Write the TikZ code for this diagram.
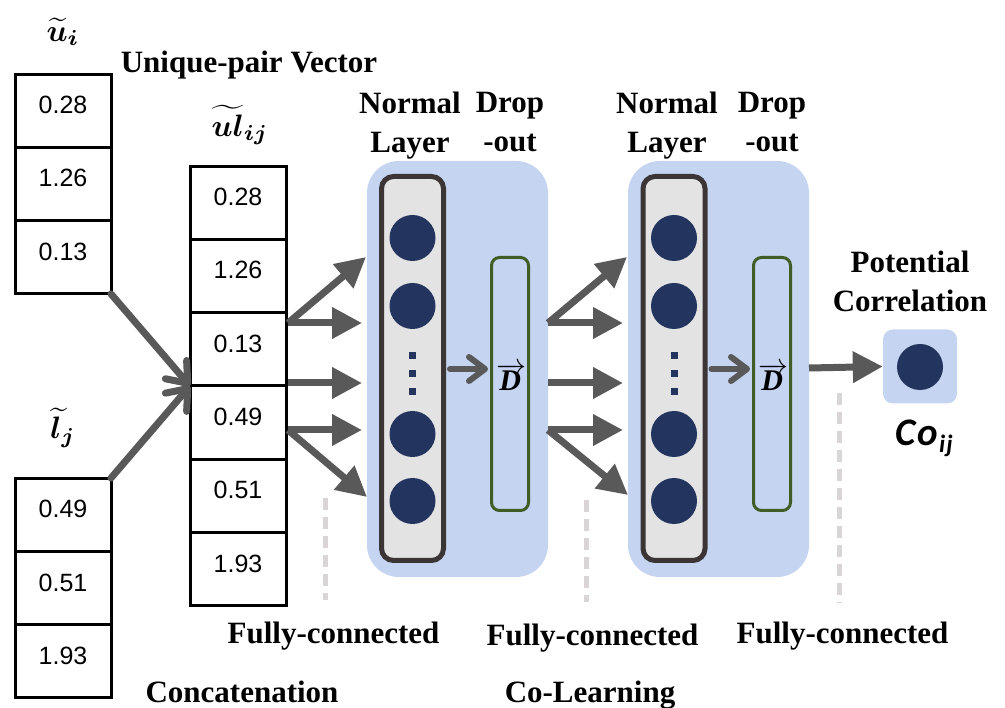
\documentclass[tikz,border=0pt]{standalone}
\usepackage{fontspec}
\setmainfont{Liberation Serif}
\newfontfamily\numfont{Liberation Sans}
\newfontfamily\cofont{Carlito}
\usepackage{bm}
\usepackage{graphicx}
\usetikzlibrary{arrows.meta}
\definecolor{panelblue}{HTML}{C5D4F0}
\definecolor{circ}{HTML}{23345F}
\definecolor{layerfill}{HTML}{E3E3E3}
\definecolor{layerdraw}{HTML}{3B3535}
\definecolor{dropgreen}{HTML}{3F5D25}
\definecolor{arrgray}{HTML}{595959}
\definecolor{dashgray}{HTML}{D9D5D6}
\tikzset{
  cell/.style={draw=black, line width=3pt, minimum width=96pt, minimum height=73.3pt,
    inner sep=0pt, outer sep=0pt, font=\numfont\fontsize{25}{25}\selectfont,
    text height=18pt, text depth=12pt},
  panel/.style={fill=panelblue, rounded corners=32pt, minimum width=181pt, minimum height=416pt, inner sep=0pt},
  layerbox/.style={draw=layerdraw, fill=layerfill, line width=5pt, rounded corners=12pt,
    minimum width=62pt, minimum height=384pt, inner sep=0pt},
  dropbox/.style={draw=dropgreen, line width=3pt, rounded corners=8pt,
    minimum width=37pt, minimum height=253pt, inner sep=0pt},
  neuron/.style={circle, fill=circ, minimum size=46pt, inner sep=0pt},
  dotsq/.style={fill=circ, minimum size=7pt, inner sep=0pt},
  lbl/.style={font=\bfseries\fontsize{31}{31}\selectfont, anchor=base, inner sep=0pt},
  mlbl/.style={inner sep=0pt},
  farrow/.style={draw=arrgray, line width=7pt, -{Triangle[length=30pt,width=30pt]}},
  carrow/.style={draw=arrgray, line width=7pt, line cap=round, -{Straight Barb[length=18pt,width=28pt,round]}},
  sarrow/.style={draw=arrgray, line width=6pt, line cap=round, -{Straight Barb[length=16pt,width=24pt,round]}},
  sep/.style={draw=dashgray, line width=5pt, dash pattern=on 12pt off 7pt},
}
\begin{document}
\begin{tikzpicture}[x=1pt, y=-1pt]
\useasboundingbox (0,0) rectangle (1005,708);

% --- input vectors ---
\node[mlbl] (ulab) at (63,32) {\scalebox{3.1}{$\widetilde{\bm{u}}_{\bm{i}}$}};
\node[lbl] (upv) at (249,73) {Unique-pair Vector};
\node[cell] (u1) at (63,110.7) {0.28};
\node[cell] (u2) at (63,184.0) {1.26};
\node[cell] (u3) at (63,257.3) {0.13};

\node[mlbl] (llab) at (63,428) {\scalebox{3.1}{$\widetilde{\bm{l}}_{\bm{j}}$}};
\node[cell] (l1) at (63,514.7) {0.49};
\node[cell] (l2) at (63,588.0) {0.51};
\node[cell] (l3) at (63,661.3) {1.93};

\node[mlbl] (ullab) at (240,125) {\scalebox{3.1}{$\widetilde{\bm{ul}}_{\bm{ij}}$}};
\node[cell] (ul1) at (238,202.7) {0.28};
\node[cell] (ul2) at (238,276.0) {1.26};
\node[cell] (ul3) at (238,349.3) {0.13};
\node[cell] (ul4) at (238,422.6) {0.49};
\node[cell] (ul5) at (238,495.9) {0.51};
\node[cell] (ul6) at (238,569.2) {1.93};

\draw[carrow] (u3.south east) -- (ul3.south west);
\draw[carrow] (l1.north east) -- (ul3.south west);

% --- panels ---
\node[panel] (p1) at (457.5,369) {};
\node[panel] (p2) at (718.5,369) {};

\foreach \i/\cx/\dx in {1/412.5/510, 2/674/772} {
  \node[layerbox] (nl\i) at (\cx,368.5) {};
  \node[neuron] (n\i a) at (\cx,238) {};
  \node[neuron] (n\i b) at (\cx,306) {};
  \node[dotsq] (d\i a) at (\cx,356) {};
  \node[dotsq] (d\i b) at (\cx,374) {};
  \node[dotsq] (d\i c) at (\cx,392) {};
  \node[neuron] (n\i c) at (\cx,434) {};
  \node[neuron] (n\i d) at (\cx,501) {};
  \node[dropbox] (dr\i) at (\dx,384) {};
  \node[inner sep=0pt] (D\i) at (\dx+1,377) {\scalebox{3}{$\overrightarrow{\hbox{\bfseries\itshape D\kern0.5pt}}$}};
  \coordinate (s\i) at (\cx+37.5,369);
  \coordinate (t\i) at (\dx-22,369);
  \draw[sarrow] (s\i) -- (t\i);
}

% header labels
\node[lbl] (nm1) at (410,114) {Normal};
\node[lbl] (ly1) at (410,153) {Layer};
\node[lbl] (dp1) at (510,113) {Drop};
\node[lbl] (ot1) at (510,152) {-out};
\node[lbl] (nm2) at (667,114) {Normal};
\node[lbl] (ly2) at (667,153) {Layer};
\node[lbl] (dp2) at (772,113) {Drop};
\node[lbl] (ot2) at (772,152) {-out};

% --- fan arrows ---
\coordinate (a1) at (288,323);
\coordinate (a2) at (288,383);
\coordinate (a3) at (288,430);
\coordinate (a1u) at (366,257);
\coordinate (a1r) at (362,323);
\coordinate (a2r) at (362,383);
\coordinate (a3r) at (362,430);
\coordinate (a3d) at (367,497);
\draw[farrow] (a1) -- (a1u);
\draw[farrow] (a1) -- (a1r);
\draw[farrow] (a2) -- (a2r);
\draw[farrow] (a3) -- (a3r);
\draw[farrow] (a3) -- (a3d);

\coordinate (b1) at (548,323);
\coordinate (b2) at (548,383);
\coordinate (b3) at (548,430);
\coordinate (b1u) at (627,257);
\coordinate (b1r) at (623,323);
\coordinate (b2r) at (623,383);
\coordinate (b3r) at (623,430);
\coordinate (b3d) at (628,495);
\draw[farrow] (b1) -- (b1u);
\draw[farrow] (b1) -- (b1r);
\draw[farrow] (b2) -- (b2r);
\draw[farrow] (b3) -- (b3r);
\draw[farrow] (b3) -- (b3d);

% --- output ---
\node[fill=panelblue, rounded corners=10pt, minimum size=74pt, inner sep=0pt] (out) at (920,366.5) {};
\node[neuron] (outn) at (920,367) {};
\coordinate (c1) at (809,368);
\draw[farrow] (c1) -- (out.west);
\node[lbl] (pot) at (910,273) {Potential};
\node[lbl] (cor) at (910,312) {Correlation};
\node[anchor=base, inner sep=0pt, font=\cofont\bfseries\itshape\fontsize{39}{39}\selectfont] (co) at (924,446)
  {C\kern2pt o{\fontsize{25}{25}\selectfont\raisebox{-7pt}{\kern1pt i\kern1pt j}}};

% --- separators ---
\coordinate (v1t) at (325,498); \coordinate (v1b) at (325,600);
\coordinate (v2t) at (586,500); \coordinate (v2b) at (586,602);
\coordinate (v3t) at (839,393); \coordinate (v3b) at (839,603);
\draw[sep] (v1t) -- (v1b);
\draw[sep] (v2t) -- (v2b);
\draw[sep] (v3t) -- (v3b);

% --- bottom labels ---
\node[lbl] (fc1) at (333.5,643) {Fully-connected};
\node[lbl] (fc2) at (592.5,645) {Fully-connected};
\node[lbl] (fc3) at (842.5,643) {Fully-connected};
\node[lbl] (cat) at (242,702) {Concatenation};
\node[lbl] (col) at (590,702) {Co-Learning};
\end{tikzpicture}
\end{document}
